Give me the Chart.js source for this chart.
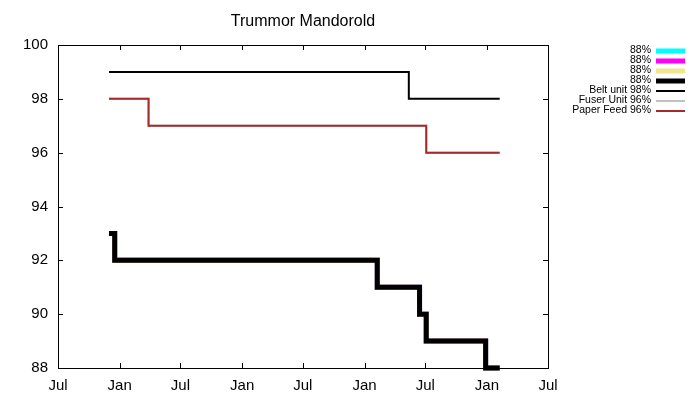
<!DOCTYPE html>
<html>
<head>
<meta charset="utf-8">
<script src="https://cdn.jsdelivr.net/npm/chart.js@4/dist/chart.umd.min.js"></script>
<style>
  html, body { margin: 0; background: #fff; }
</style>
</head>
<body>
<canvas id="chart" width="700" height="400"></canvas>
<script>
const chartTitle = 'Trummor Mandorold';

// step data (gnuplot "steps": horizontal first, then vertical)
const tonerDates = ['2016-11-30', '2016-12-17', '2019-02-08', '2019-06-14', '2019-07-04', '2019-12-28', '2020-02-08'];
const tonerVals = [93, 92, 91, 90, 89, 88, 88];
const beltDates = ['2016-11-30', '2019-05-13', '2020-02-08'];
const beltVals = [99, 98, 98];
const paperDates = ['2016-11-30', '2017-03-28', '2019-07-04', '2020-02-08'];
const paperVals = [98, 97, 96, 96];

const seriesLabels = ['88%', '88%', '88%', '88%', 'Belt unit 98%', 'Fuser Unit 96%', 'Paper Feed 96%'];
const seriesColors = ['#00ffff', '#ff00ff', '#f0e68c', '#000000', '#000000', '#c0c0c0', '#a52a2a'];
const seriesWidths = [5, 5, 5, 5, 2, 2, 2];
const seriesDates = [tonerDates, tonerDates, tonerDates, tonerDates, beltDates, paperDates, paperDates];
const seriesVals = [tonerVals, tonerVals, tonerVals, tonerVals, beltVals, paperVals, paperVals];

const xTickDates = ['2016-07-01', '2017-01-01', '2017-07-01', '2018-01-01', '2018-07-01',
                    '2019-01-01', '2019-07-01', '2020-01-01', '2020-07-01'];
const yTicks = [88, 90, 92, 94, 96, 98, 100];
const monthNames = ['Jan', 'Feb', 'Mar', 'Apr', 'May', 'Jun', 'Jul', 'Aug', 'Sep', 'Oct', 'Nov', 'Dec'];

const FONT = '"Liberation Sans", Arial, sans-serif';
const toMs = d => Date.parse(d);

const datasets = seriesLabels.map((label, i) => ({
    label,
    data: seriesDates[i].map((d, j) => ({ x: toMs(d), y: seriesVals[i][j] })),
    borderColor: seriesColors[i],
    borderWidth: seriesWidths[i],
    pointRadius: 0,
    stepped: 'before',
    fill: false,
    clip: false,
    order: seriesLabels.length - i
}));

// box, inward ticks on all sides, title and gnuplot-style key
const gnuplotFrame = {
    id: 'gnuplotFrame',
    afterDraw(chart) {
        const { ctx, chartArea: a, scales } = chart;
        const tl = 5;
        ctx.save();
        ctx.strokeStyle = '#000';
        ctx.lineWidth = 1;
        ctx.strokeRect(a.left + 0.5, a.top + 0.5, a.right - a.left, a.bottom - a.top);
        ctx.beginPath();
        scales.x.ticks.forEach(t => {
            const px = Math.round(scales.x.getPixelForValue(t.value)) + 0.5;
            ctx.moveTo(px, a.bottom); ctx.lineTo(px, a.bottom - tl);
            ctx.moveTo(px, a.top); ctx.lineTo(px, a.top + tl);
        });
        scales.y.ticks.forEach(t => {
            const py = Math.round(scales.y.getPixelForValue(t.value)) + 0.5;
            ctx.moveTo(a.left, py); ctx.lineTo(a.left + tl, py);
            ctx.moveTo(a.right, py); ctx.lineTo(a.right - tl, py);
        });
        ctx.stroke();

        // title
        ctx.fillStyle = '#000';
        ctx.font = '16px ' + FONT;
        ctx.textAlign = 'center';
        ctx.textBaseline = 'middle';
        ctx.fillText(chartTitle, (a.left + a.right) / 2, 21.5);

        // key
        ctx.font = '10.5px ' + FONT;
        ctx.textAlign = 'right';
        chart.data.datasets.forEach((ds, i) => {
            const y = 50.5 + i * 10;
            ctx.fillStyle = '#000';
            ctx.fillText(ds.label, 651, y);
            ctx.strokeStyle = ds.borderColor;
            ctx.lineWidth = ds.borderWidth;
            ctx.beginPath();
            ctx.moveTo(656, Math.round(y));
            ctx.lineTo(685, Math.round(y));
            ctx.stroke();
        });
        ctx.restore();
    }
};

new Chart(document.getElementById('chart'), {
    type: 'line',
    data: { datasets },
    options: {
        responsive: false,
        animation: false,
        layout: { padding: { left: 0, right: 152, top: 45, bottom: 0 } },
        plugins: { legend: { display: false }, title: { display: false }, tooltip: { enabled: false } },
        scales: {
            x: {
                type: 'linear',
                min: toMs(xTickDates[0]),
                max: toMs(xTickDates[xTickDates.length - 1]),
                afterBuildTicks: s => { s.ticks = xTickDates.map(d => ({ value: toMs(d) })); },
                afterFit: s => { s.height = 32; },
                grid: { display: false },
                border: { display: false },
                ticks: {
                    autoSkip: false,
                    maxRotation: 0,
                    padding: 1,
                    color: '#000',
                    font: { family: FONT, size: 15 },
                    callback: v => monthNames[new Date(v).getUTCMonth()]
                }
            },
            y: {
                min: yTicks[0],
                max: yTicks[yTicks.length - 1],
                afterBuildTicks: s => { s.ticks = yTicks.map(v => ({ value: v })); },
                afterFit: s => { s.width = 58; },
                grid: { display: false },
                border: { display: false },
                ticks: {
                    padding: 2,
                    color: '#000',
                    font: { family: FONT, size: 15 }
                }
            }
        }
    },
    plugins: [gnuplotFrame]
});
</script>
</body>
</html>
